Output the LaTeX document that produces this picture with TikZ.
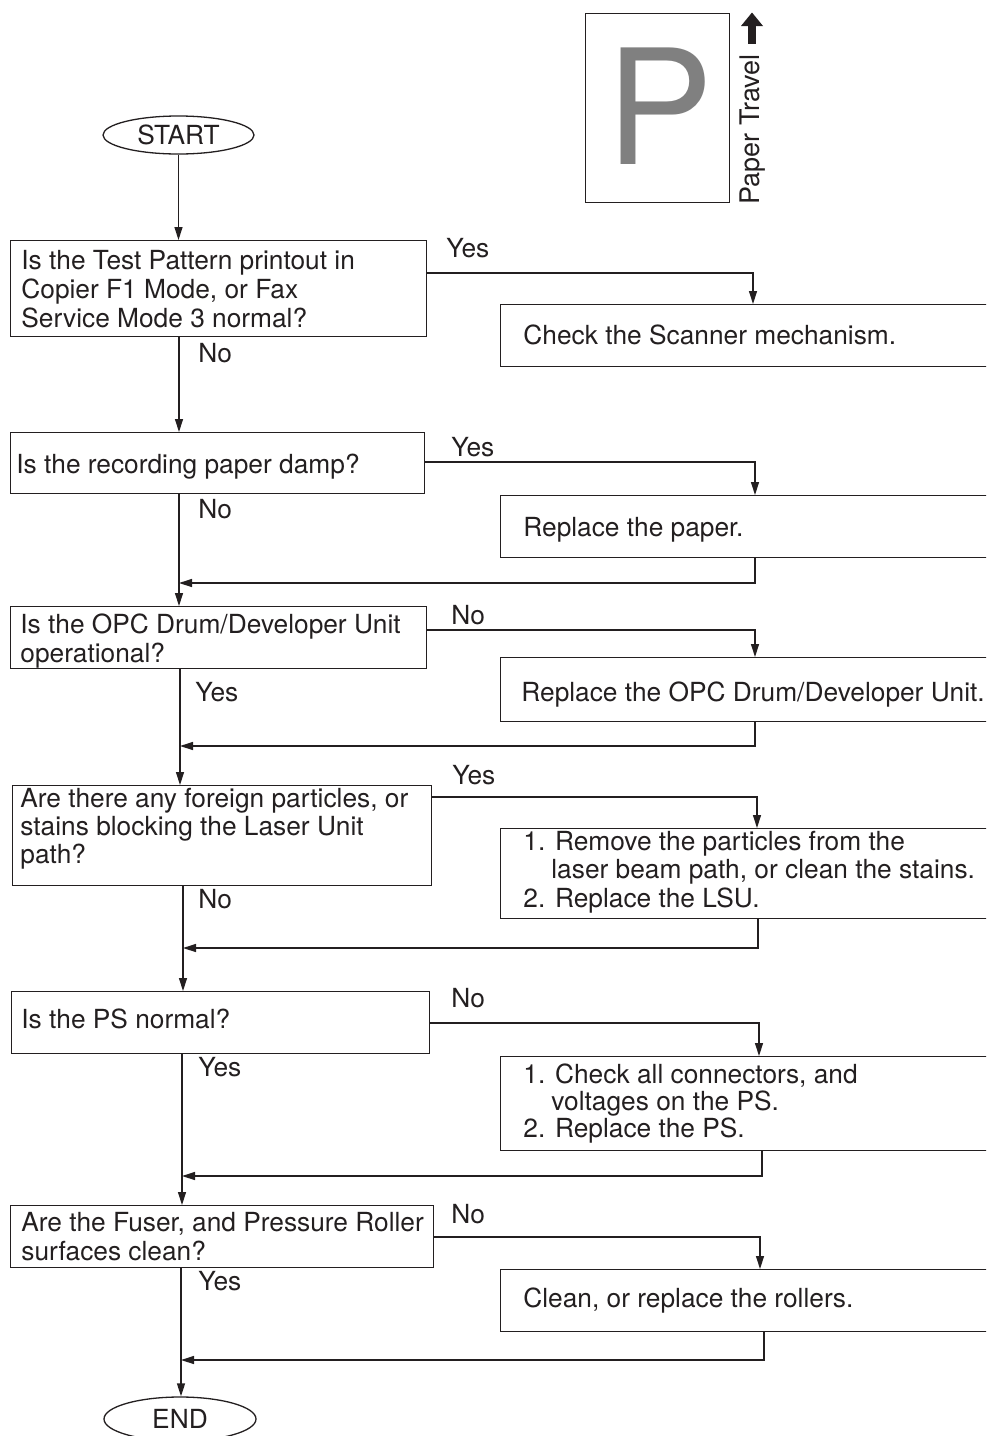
\documentclass[tikz,border=0pt]{standalone}
\usepackage{fontspec}
\setmainfont{TeX Gyre Heros}
\usetikzlibrary{arrows.meta,shapes.geometric}
\definecolor{ink}{HTML}{231F20}
\definecolor{pgray}{HTML}{808080}
\begin{document}
\begin{tikzpicture}[x=0.5pt,y=-0.5pt,
  ln/.style={draw=ink,line width=0.65pt},
  arr/.style={ln,-{Triangle[length=6.5pt,width=4pt]}},
  box/.style={ln,rectangle,inner sep=0pt,anchor=north west},
  txt/.style={anchor=base west,inner sep=0pt,text=ink,font=\fontsize{13.15}{15}\selectfont},
  term/.style={ln,ellipse,inner sep=0pt,text=ink,font=\fontsize{13.15}{15}\selectfont}
]
\useasboundingbox (0,0) rectangle (986,1436);
\clip (0,0) rectangle (986,1436);

% paper travel indicator
\node[box,minimum width=72pt,minimum height=94.5pt] (pbox) at (585,13) {};
\node[anchor=base,inner sep=0pt,text=pgray,font=\fontsize{80}{80}\selectfont] (pl) at (660,164) {P};
\node[anchor=base west,inner sep=0pt,rotate=90,text=ink,font=\fontsize{13.5}{15}\selectfont] (pt) at (759,205) {Paper Travel};
\fill[ink] (748,44) rectangle (756,25);
\fill[ink] (741,26) -- (763,26) -- (752,12.5) -- cycle;

% terminals
\node[term,minimum width=75.5pt,minimum height=19pt] (start) at (178.5,135) {START};
\node[term,minimum width=76pt,minimum height=22pt] (end) at (180,1419) {END};

% decision boxes
\node[box,minimum width=208pt,minimum height=48pt] (b1) at (10,240) {};
\node[box,minimum width=207pt,minimum height=30.5pt] (b3) at (10,432) {};
\node[box,minimum width=208pt,minimum height=31pt] (b5) at (10,606) {};
\node[box,minimum width=209.5pt,minimum height=50pt] (b7) at (12,785) {};
\node[box,minimum width=209pt,minimum height=31pt] (b9) at (11,991) {};
\node[box,minimum width=211.5pt,minimum height=31pt] (b11) at (10,1205) {};

% action boxes (open to the right edge)
\node[box,minimum width=250pt,minimum height=31pt] (r2) at (500,304) {};
\node[box,minimum width=250pt,minimum height=31pt] (r4) at (500,495) {};
\node[box,minimum width=250pt,minimum height=32pt] (r6) at (500,657) {};
\node[box,minimum width=250pt,minimum height=45pt] (r8) at (500,828) {};
\node[box,minimum width=250pt,minimum height=47pt] (r10) at (500,1056) {};
\node[box,minimum width=250pt,minimum height=31pt] (r12) at (500,1269) {};

% texts
\node[txt] (t1a) at (21,269) {Is the Test Pattern printout in};
\node[txt] (t1b) at (21,298) {Copier F1 Mode, or Fax};
\node[txt] (t1c) at (21,327) {Service Mode 3 normal?};
\node[txt] (t2) at (523,344) {Check the Scanner mechanism.};
\node[txt] (t3) at (16,473) {Is the recording paper damp?};
\node[txt] (t4) at (523,536) {Replace the paper.};
\node[txt] (t5a) at (20,633) {Is the OPC Drum/Developer Unit};
\node[txt] (t5b) at (20,662) {operational?};
\node[txt] (t6) at (521,701) {Replace the OPC Drum/Developer Unit.};
\node[txt] (t7a) at (20,807) {Are there any foreign particles, or};
\node[txt] (t7b) at (20,835) {stains blocking the Laser Unit};
\node[txt] (t7c) at (20,863) {path?};
\node[txt] (t8a) at (523,850) {1. Remove the particles from the};
\node[txt] (t8b) at (551,878.5) {laser beam path, or clean the stains.};
\node[txt] (t8c) at (523,907) {2. Replace the LSU.};
\node[txt] (t9) at (21,1028) {Is the PS normal?};
\node[txt] (t10a) at (523,1083) {1. Check all connectors, and};
\node[txt] (t10b) at (551,1110) {voltages on the PS.};
\node[txt] (t10c) at (523,1137) {2. Replace the PS.};
\node[txt] (t11a) at (21,1231) {Are the Fuser, and Pressure Roller};
\node[txt] (t11b) at (21,1260) {surfaces clean?};
\node[txt] (t12) at (523,1307) {Clean, or replace the rollers.};

% branch labels
\node[txt] (y1) at (446,257) {Yes};
\node[txt] (n1) at (198,362) {No};
\node[txt] (y2) at (451,456) {Yes};
\node[txt] (n2) at (198,518) {No};
\node[txt] (n3) at (451,624) {No};
\node[txt] (y3) at (195,701) {Yes};
\node[txt] (y4) at (452,784) {Yes};
\node[txt] (n4) at (198,908) {No};
\node[txt] (n5) at (451,1007) {No};
\node[txt] (y5) at (198,1076) {Yes};
\node[txt] (n6) at (451,1223) {No};
\node[txt] (y6) at (198,1290) {Yes};

% main line x positions
\coordinate (m179) at (179,0);
\coordinate (m180) at (180,0);
\coordinate (m181) at (181,0);
\coordinate (m182) at (182,0);
\coordinate (m183) at (183,0);

\draw[arr] (start.south) -- (start.south |- b1.north);
\draw[arr] (b1.south -| m179) -- (b3.north -| m179);
\draw[arr] (b3.south -| m179) -- (b5.north -| m179);
\draw[arr] (b5.south -| m180) -- (b7.north -| m180);
\draw[arr] (b7.south -| m183) -- (b9.north -| m183);
\draw[arr] (b9.south -| m182) -- (b11.north -| m182);
\draw[arr] (b11.south -| m181) -- (end.north -| m181);

% side branches
\coordinate (d1) at (753,273);
\draw[arr] (b1.east |- d1) -- (d1) -- (d1 |- r2.north);
\coordinate (d3) at (755,462);
\draw[arr] (b3.east |- d3) -- (d3) -- (d3 |- r4.north);
\coordinate (e4) at (755,583);
\draw[arr] (r4.south -| e4) -- (e4) -- (e4 -| m179);
\coordinate (d5) at (755,630);
\draw[arr] (b5.east |- d5) -- (d5) -- (d5 |- r6.north);
\coordinate (e6) at (755,746);
\draw[arr] (r6.south -| e6) -- (e6) -- (e6 -| m180);
\coordinate (d7) at (757,797);
\draw[arr] (b7.east |- d7) -- (d7) -- (d7 |- r8.north);
\coordinate (e8) at (758,948);
\draw[arr] (r8.south -| e8) -- (e8) -- (e8 -| m183);
\coordinate (d9) at (759,1023);
\draw[arr] (b9.east |- d9) -- (d9) -- (d9 |- r10.north);
\coordinate (e10) at (762,1176);
\draw[arr] (r10.south -| e10) -- (e10) -- (e10 -| m182);
\coordinate (d11) at (760,1237);
\draw[arr] (b11.east |- d11) -- (d11) -- (d11 |- r12.north);
\coordinate (e12) at (764,1360);
\draw[arr] (r12.south -| e12) -- (e12) -- (e12 -| m181);
\end{tikzpicture}
\end{document}
